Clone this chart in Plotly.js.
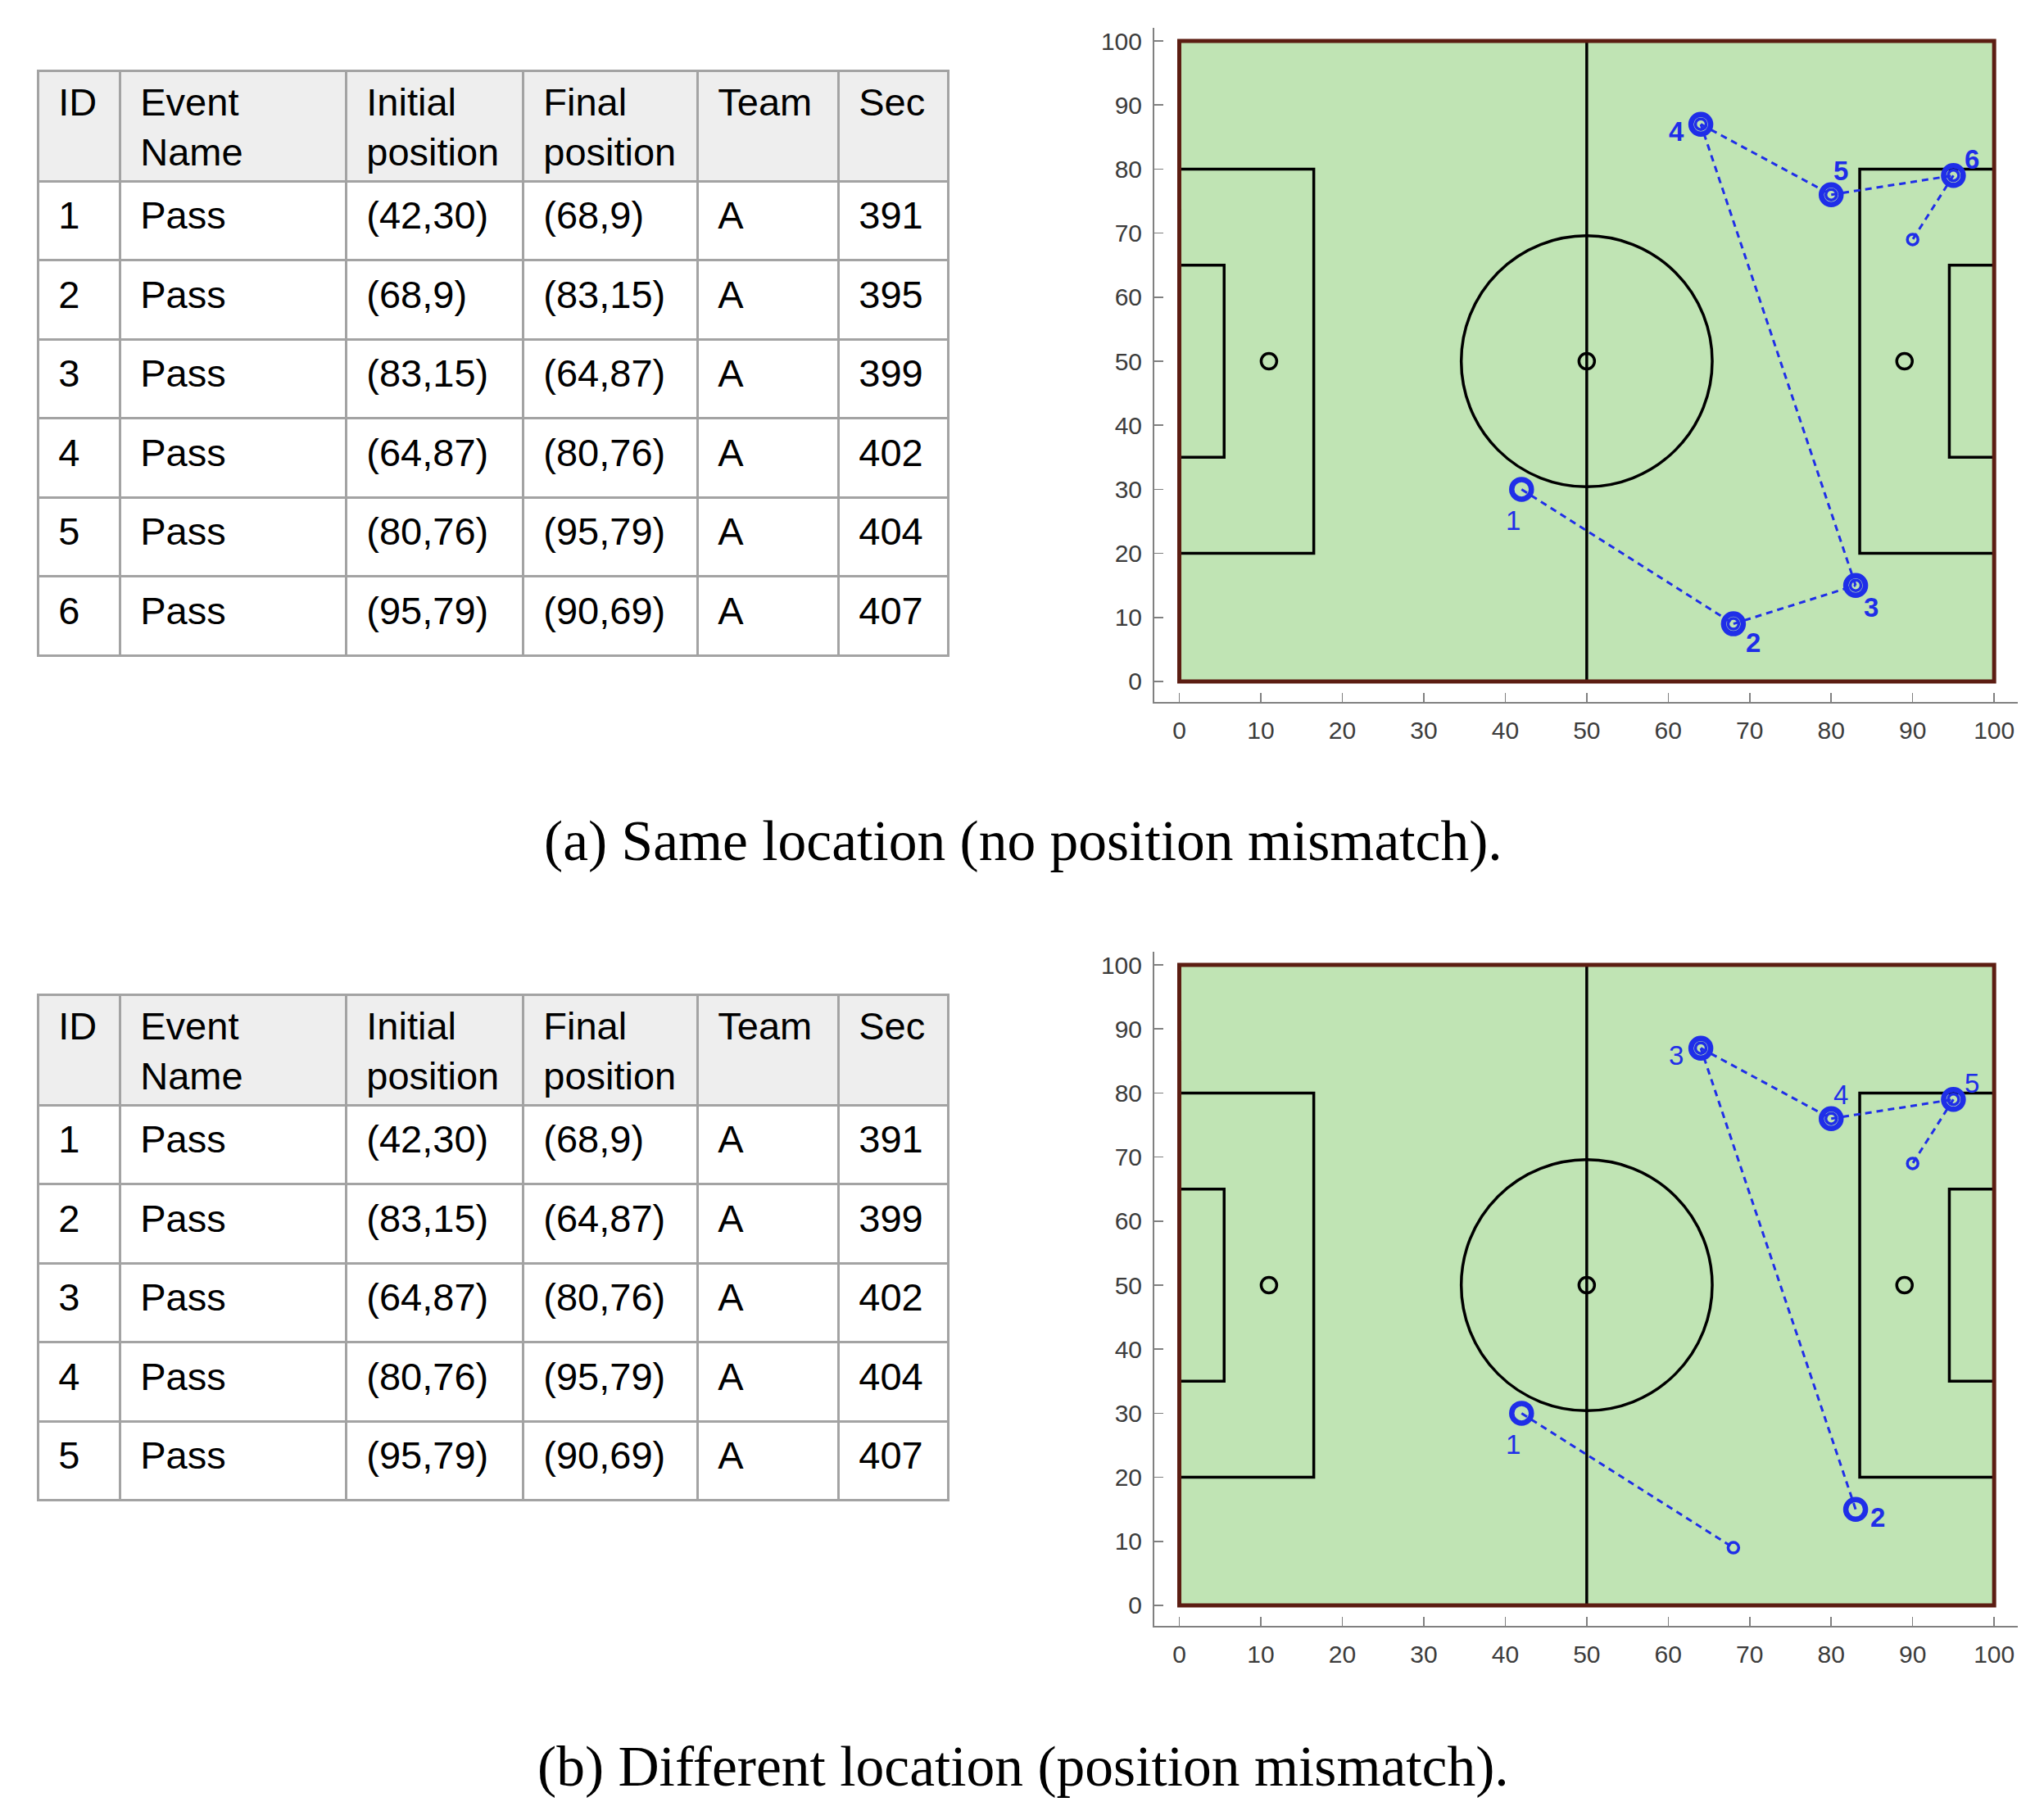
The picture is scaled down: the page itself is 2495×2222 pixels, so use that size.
<!DOCTYPE html>
<html>
<head>
<meta charset="utf-8">
<script src="https://cdn.plot.ly/plotly-3.0.1.min.js"></script>
<style>
  html, body { margin: 0; padding: 0; background: #fff; }
  #chart { width: 2495px; height: 2222px; }
</style>
</head>
<body>
<div id="chart"></div>
<script>
// (a) same location: all six passes
const idsA = [1, 2, 3, 4, 5, 6];
const namesA = ['Pass', 'Pass', 'Pass', 'Pass', 'Pass', 'Pass'];
const startXA = [42, 68, 83, 64, 80, 95];
const startYA = [30, 9, 15, 87, 76, 79];
const endXA = [68, 83, 64, 80, 95, 90];
const endYA = [9, 15, 87, 76, 79, 69];
const teamsA = ['A', 'A', 'A', 'A', 'A', 'A'];
const secsA = [391, 395, 399, 402, 404, 407];

// (b) different location: the 395 s pass is missing
const idsB = [1, 2, 3, 4, 5];
const namesB = ['Pass', 'Pass', 'Pass', 'Pass', 'Pass'];
const startXB = [42, 83, 64, 80, 95];
const startYB = [30, 15, 87, 76, 79];
const endXB = [68, 64, 80, 95, 90];
const endYB = [9, 87, 76, 79, 69];
const teamsB = ['A', 'A', 'A', 'A', 'A'];
const secsB = [391, 399, 402, 404, 407];

const headers = ['ID', 'Event<br>Name', 'Initial<br>position', 'Final<br>position', 'Team', 'Sec'];
const tickVals = [0, 10, 20, 30, 40, 50, 60, 70, 80, 90, 100];
const captions = ['(a) Same location (no position mismatch).', '(b) Different location (position mismatch).'];

// pitch markings on a 100 x 100 field
const penaltyBoxes = [[0, 20, 16.5, 80], [83.5, 20, 100, 80]];
const goalBoxes = [[0, 35, 5.5, 65], [94.5, 35, 100, 65]];
const spotX = [11, 50, 89];
const spotY = [50, 50, 50];
const circleRx = 15.4;
const circleRy = 19.6;

// label offsets in px (dx, dy up) and weights - placed by hand in the original
const labelShiftA = [[-10, -38], [24, -23], [19, -27], [-30, -9], [12, 29], [23, 20]];
const labelShiftB = [[-10, -38], [27, -10], [-30, -9], [12, 29], [23, 20]];
const labelBoldA = [false, true, true, true, true, true];
const labelBoldB = [false, true, false, false, false];

const W = 2495, H = 2222;
const BLUE = '#1f2ee8';
const GRID = '#a3a3a3';
const FONT = 'Liberation Sans, Arial, sans-serif';
const PAD = '\u2009\u200a\u200a';
const CLEAR = 'rgba(0,0,0,0)';

const fmtPos = (xs, ys) => xs.map((x, i) => '(' + x + ',' + ys[i] + ')');
// every header gets two lines so all first lines sit at the same height
const headerText = h => (h.indexOf('<br>') < 0 ? h + '<br>\u00a0' : h)
    .split('<br>').map(t => PAD + t).join('<br>');
const blanks = n => Array.from({ length: n }, () => '');

// one table = a grid layer plus two text layers nudged down to centre the text
function makeTables(ids, names, sx, sy, ex, ey, teams, secs, top) {
    const rows = ids.length;
    const blankCols = headers.map(() => blanks(rows));
    const cellCols = [ids, names, fmtPos(sx, sy), fmtPos(ex, ey), teams, secs];
    const font = { family: FONT, size: 47, color: '#000' };
    const layer = (shift, hVals, cVals, grid) => {
        const t = top + shift;
        const bottom = t + 135 + rows * 96.5 + 10;
        return {
            type: 'table',
            domain: { x: [46 / W, 1157 / W], y: [1 - bottom / H, 1 - t / H] },
            columnwidth: [100, 276, 216, 213, 172, 134],
            header: {
                values: hVals, align: 'left', height: 135, font: font,
                fill: { color: grid ? '#eeeeee' : CLEAR },
                line: { color: grid ? GRID : CLEAR, width: 3 }
            },
            cells: {
                values: cVals, prefix: PAD, align: 'left', height: 96.5, font: font,
                fill: { color: grid ? '#ffffff' : CLEAR },
                line: { color: grid ? GRID : CLEAR, width: 3 }
            }
        };
    };
    return [
        layer(0, headers.map(() => ''), blankCols, true),
        layer(4, headers.map(headerText), blankCols, false),
        layer(15, headers.map(() => ''), cellCols, false)
    ];
}

function pitchShapes(xr, yr) {
    const shapes = [];
    const base = { xref: xr, yref: yr, layer: 'below' };
    shapes.push(Object.assign({ type: 'rect', x0: 0, y0: 0, x1: 100, y1: 100,
        fillcolor: '#c0e4b4', line: { width: 0 } }, base));
    penaltyBoxes.concat(goalBoxes).forEach(b => {
        shapes.push(Object.assign({ type: 'rect', x0: b[0], y0: b[1], x1: b[2], y1: b[3],
            line: { color: '#000', width: 3.5 } }, base));
    });
    shapes.push(Object.assign({ type: 'line', x0: 50, y0: 0, x1: 50, y1: 100,
        line: { color: '#000', width: 3.5 } }, base));
    shapes.push(Object.assign({ type: 'circle', x0: 50 - circleRx, x1: 50 + circleRx,
        y0: 50 - circleRy, y1: 50 + circleRy, line: { color: '#000', width: 3.5 } }, base));
    // outer touchline drawn last so the boxes sit under it
    shapes.push(Object.assign({ type: 'rect', x0: 0, y0: 0, x1: 100, y1: 100,
        line: { color: '#5c1d12', width: 5 } }, base));
    return shapes;
}

function passTraces(sx, sy, ex, ey, xa, ya) {
    const lx = [], ly = [];
    sx.forEach((x, i) => { lx.push(x, ex[i], null); ly.push(sy[i], ey[i], null); });
    return [
        { type: 'scatter', mode: 'markers', x: spotX, y: spotY, xaxis: xa, yaxis: ya,
          marker: { symbol: 'circle-open', size: 19, color: '#000', line: { width: 3.5 } },
          hoverinfo: 'skip' },
        { type: 'scatter', mode: 'lines', x: lx, y: ly, xaxis: xa, yaxis: ya,
          line: { color: BLUE, width: 3, dash: '8px,6px' }, hoverinfo: 'skip' },
        { type: 'scatter', mode: 'markers', x: sx, y: sy, xaxis: xa, yaxis: ya,
          marker: { symbol: 'circle-open', size: 24, color: BLUE, line: { width: 6.5 } } },
        { type: 'scatter', mode: 'markers', x: ex, y: ey, xaxis: xa, yaxis: ya,
          marker: { symbol: 'circle-open', size: 13, color: BLUE, line: { width: 3.5 } } }
    ];
}

function passLabels(ids, sx, sy, shifts, bold, xr, yr) {
    return ids.map((id, i) => ({
        xref: xr, yref: yr, x: sx[i], y: sy[i], text: String(id), showarrow: false,
        xshift: shifts[i][0], yshift: shifts[i][1],
        font: { family: FONT, size: 33, color: BLUE, weight: bold[i] ? 'bold' : 'normal' }
    }));
}

function axis(domain, range, anchor) {
    return {
        domain: domain, range: range, anchor: anchor,
        tickmode: 'array', tickvals: tickVals,
        ticks: 'inside', ticklen: 11, tickwidth: 1.5, tickcolor: '#808080',
        showline: true, linecolor: '#808080', linewidth: 2,
        showgrid: false, zeroline: false, fixedrange: true,
        ticklabelstandoff: 7,
        tickfont: { family: FONT, size: 30, color: '#3c3c3c' }
    };
}

const xDom = [1409 / W, 2463 / W];
const xRange = [-3.07, 102.9];
const yRange = [-3.2, 102];

const data = [].concat(
    makeTables(idsA, namesA, startXA, startYA, endXA, endYA, teamsA, secsA, 86),
    makeTables(idsB, namesB, startXB, startYB, endXB, endYB, teamsB, secsB, 1214),
    passTraces(startXA, startYA, endXA, endYA, 'x', 'y'),
    passTraces(startXB, startYB, endXB, endYB, 'x2', 'y2')
);

const layout = {
    width: W, height: H,
    margin: { l: 0, r: 0, t: 0, b: 0 },
    paper_bgcolor: '#ffffff', plot_bgcolor: '#ffffff',
    showlegend: false,
    xaxis: axis(xDom, xRange, 'y'),
    yaxis: axis([1 - 857 / H, 1 - 34.4 / H], yRange, 'x'),
    xaxis2: axis(xDom, xRange, 'y2'),
    yaxis2: axis([1 - 1985 / H, 1 - 1162.4 / H], yRange, 'x2'),
    shapes: pitchShapes('x', 'y').concat(pitchShapes('x2', 'y2')),
    annotations: passLabels(idsA, startXA, startYA, labelShiftA, labelBoldA, 'x', 'y').concat(
        passLabels(idsB, startXB, startYB, labelShiftB, labelBoldB, 'x2', 'y2'),
        captions.map((c, i) => ({
            xref: 'paper', yref: 'paper', x: 1249 / W, y: i === 0 ? 1 - 1026 / H : 1 - 2156 / H,
            xanchor: 'center', yanchor: 'middle', showarrow: false, text: c,
            font: { family: 'Liberation Serif, Times New Roman, serif', size: 69.5, color: '#000' }
        })))
};

Plotly.newPlot('chart', data, layout, { staticPlot: true });
</script>
</body>
</html>
